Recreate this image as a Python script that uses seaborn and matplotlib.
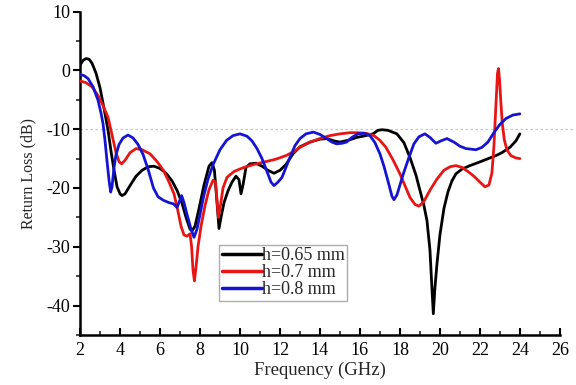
import numpy as np
import pandas as pd
import matplotlib
matplotlib.use("Agg")
import matplotlib.pyplot as plt
import seaborn as sns
from matplotlib.ticker import MultipleLocator

labels = ["h=0.65 mm", "h=0.7 mm", "h=0.8 mm"]
colors = ["#000000", "#e81515", "#1414d2"]

f_065 = [2.0, 2.15, 2.3, 2.45, 2.6, 2.8, 3.0, 3.2, 3.4, 3.55, 3.7, 3.85, 4.0, 4.1, 4.25, 4.5,
         4.8, 5.1, 5.4, 5.7, 6.0, 6.3, 6.6, 6.85, 7.1, 7.3, 7.5, 7.6, 7.75, 7.95, 8.2, 8.45,
         8.6, 8.72, 8.85, 8.95, 9.05, 9.2, 9.4, 9.6, 9.8, 9.95, 10.05, 10.15, 10.3, 10.5,
         10.8, 11.1, 11.4, 11.7, 12.0, 12.3, 12.65, 13.0, 13.5, 14.0, 14.35, 14.7, 15.0,
         15.4, 15.85, 16.3, 16.65, 16.9, 17.1, 17.4, 17.85, 18.2, 18.5, 18.8, 19.0, 19.2,
         19.35, 19.5, 19.6, 19.67, 19.75, 19.85, 20.0, 20.2, 20.4, 20.6, 20.8, 21.1, 21.5,
         21.9, 22.2, 22.5, 22.8, 23.1, 23.5, 23.8, 24.0]
v_065 = [0.9, 1.7, 2.0, 1.9, 1.2, -0.5, -3.0, -6.5, -10.2, -13.8, -17.0, -19.8, -21.0, -21.3,
         -21.0, -19.6, -18.0, -17.0, -16.4, -16.3, -16.7, -17.5, -18.8, -20.4, -22.6, -25.0,
         -27.0, -27.3, -26.5, -23.5, -19.5, -16.3, -15.7, -17.0, -22.5, -26.9, -25.0, -22.5,
         -20.5, -19.0, -18.0, -18.6, -21.0, -19.5, -16.5, -15.9, -15.8, -16.3, -17.0, -17.5,
         -17.0, -16.0, -14.2, -13.0, -12.2, -11.7, -11.6, -12.0, -12.2, -11.9, -11.4, -11.1,
         -10.8, -10.2, -10.1, -10.2, -10.8, -12.3, -14.8, -17.8, -20.4, -23.0, -25.5, -30.5,
         -37.0, -41.4, -37.0, -33.0, -28.0, -23.5, -20.7, -18.8, -17.6, -16.8, -16.2, -15.7,
         -15.3, -14.9, -14.5, -14.0, -13.1, -12.0, -10.8]

f_07 = [2.0, 2.3, 2.6, 2.9, 3.15, 3.4, 3.6, 3.8, 3.95, 4.08, 4.25, 4.5, 4.8, 5.1, 5.5, 5.85,
        6.17, 6.45, 6.7, 6.9, 7.05, 7.2, 7.35, 7.5, 7.58, 7.65, 7.72, 7.8, 7.9, 8.05, 8.25,
        8.45, 8.65, 8.78, 8.86, 8.92, 9.0, 9.15, 9.35, 9.7, 10.2, 10.7, 11.2, 11.8, 12.3,
        12.7, 13.0, 13.5, 14.0, 14.5, 15.0, 15.5, 15.85, 16.3, 16.7, 17.0, 17.3, 17.65, 18.0,
        18.3, 18.5, 18.75, 18.95, 19.2, 19.5, 19.85, 20.2, 20.5, 20.8, 21.1, 21.4, 21.7,
        22.0, 22.25, 22.45, 22.6, 22.7, 22.8, 22.88, 22.93, 22.98, 23.05, 23.12, 23.22,
        23.35, 23.55, 23.8, 24.0]
v_07 = [-1.8, -2.1, -2.8, -4.3, -6.0, -8.0, -11.0, -14.0, -15.5, -15.9, -15.3, -14.0, -13.3,
        -13.5, -14.2, -15.5, -17.0, -19.0, -21.0, -24.0, -26.5, -28.0, -28.2, -27.8, -30.0,
        -34.0, -35.8, -33.5, -30.0, -26.5, -23.0, -20.3, -18.7, -19.0, -22.5, -25.0, -23.5,
        -20.0, -18.2, -17.2, -16.5, -16.0, -15.6, -15.1, -14.5, -13.8, -13.1, -12.2, -11.6,
        -11.1, -10.8, -10.6, -10.6, -10.7, -11.1, -11.9, -13.1, -15.2, -17.6, -20.0, -21.6,
        -22.8, -23.1, -22.3, -20.4, -18.5, -17.0, -16.4, -16.2, -16.5, -17.2, -18.0, -19.0,
        -19.8, -19.5, -17.5, -13.0, -6.0, -0.5, 0.3, -1.5, -5.5, -9.0, -11.8, -13.5, -14.5,
        -14.9, -15.0]

f_08 = [2.0, 2.2, 2.4, 2.65, 2.9, 3.05, 3.15, 3.25, 3.35, 3.45, 3.53, 3.6, 3.7, 3.8, 3.95,
        4.15, 4.4, 4.65, 4.9, 5.15, 5.4, 5.67, 5.9, 6.17, 6.45, 6.67, 6.85, 6.98, 7.08, 7.2,
        7.35, 7.55, 7.7, 7.85, 8.0, 8.17, 8.4, 8.67, 9.0, 9.33, 9.65, 10.0, 10.35, 10.6,
        10.85, 11.1, 11.35, 11.55, 11.7, 11.9, 12.1, 12.3, 12.5, 12.75, 13.0, 13.3, 13.67,
        14.0, 14.33, 14.6, 14.83, 15.1, 15.33, 15.6, 15.9, 16.2, 16.5, 16.75, 17.0, 17.2,
        17.4, 17.6, 17.7, 17.85, 18.0, 18.17, 18.45, 18.7, 18.95, 19.25, 19.5, 19.8, 20.05,
        20.35, 20.7, 21.0, 21.3, 21.8, 22.1, 22.4, 22.7, 23.0, 23.3, 23.65, 24.0]
v_08 = [-0.7, -0.9, -1.4, -2.8, -5.1, -7.3, -9.1, -12.0, -15.5, -18.7, -20.7, -19.8, -16.5,
        -14.3, -12.6, -11.5, -11.0, -11.5, -12.6, -14.3, -16.8, -20.0, -21.5, -22.1, -22.5,
        -22.7, -23.3, -22.2, -21.3, -22.5, -24.5, -27.0, -28.4, -27.0, -24.5, -21.6, -18.5,
        -15.9, -13.5, -11.9, -11.1, -10.8, -11.2, -12.0, -13.3, -15.0, -17.2, -19.0, -19.6,
        -19.0, -18.2, -16.5, -14.8, -12.8, -11.6, -10.8, -10.5, -10.9, -11.6, -12.2, -12.5,
        -12.4, -12.2, -11.4, -10.8, -10.7, -11.1, -12.3, -14.2, -16.3, -18.8, -21.4, -22.0,
        -21.2, -19.5, -17.6, -14.8, -12.5, -11.3, -10.8, -11.4, -12.4, -12.0, -11.6, -12.2,
        -12.9, -13.3, -13.5, -13.1, -12.2, -10.6, -9.2, -8.2, -7.6, -7.4]

xticks = list(range(2, 27, 2))
yticks = [-40, -30, -20, -10, 0, 10]

df = pd.concat([
    pd.DataFrame({"Frequency": f_065, "RL": v_065, "h": labels[0]}),
    pd.DataFrame({"Frequency": f_07, "RL": v_07, "h": labels[1]}),
    pd.DataFrame({"Frequency": f_08, "RL": v_08, "h": labels[2]}),
], ignore_index=True)

sns.set_style("ticks")
plt.rcParams["font.family"] = ["Liberation Serif", "DejaVu Serif"]
plt.rcParams["axes.unicode_minus"] = False

fig = plt.figure(figsize=(5.76, 3.85), dpi=100)
ax = fig.add_axes([0.139, 0.130, 0.833, 0.840])

ax.axhline(-10, xmin=0, xmax=1.03, color="#c8c8c8", lw=0.9, ls=(0, (2, 2)),
           clip_on=False, zorder=1)

sns.lineplot(data=df, x="Frequency", y="RL", hue="h", palette=dict(zip(labels, colors)),
             sort=False, estimator=None, lw=2.0, ax=ax, zorder=3)
for ln in ax.get_lines():
    ln.set_solid_joinstyle("round")

ax.set_xlim(2, 26)
ax.set_ylim(-45, 10)
ax.set_xticks(xticks)
ax.set_yticks(yticks)
ax.xaxis.set_minor_locator(MultipleLocator(1))
ax.yaxis.set_minor_locator(MultipleLocator(5))
ax.tick_params(axis="x", which="major", direction="in", length=5, width=1.5,
               labelsize=13, pad=5, colors="black")
ax.tick_params(axis="x", which="minor", direction="in", length=3, width=1.2)
ax.tick_params(axis="y", which="major", direction="out", length=5, width=1.5,
               labelsize=13, pad=2, colors="black")
ax.tick_params(axis="y", which="minor", direction="out", length=3, width=1.2)

for s in ["top", "right"]:
    ax.spines[s].set_visible(False)
for s in ["left", "bottom"]:
    ax.spines[s].set_linewidth(1.8)
    ax.spines[s].set_color("black")

ax.set_xlabel("Frequency (GHz)", fontsize=13.5, labelpad=2)
ax.set_ylabel("Return Loss (dB)", fontsize=11.5, labelpad=7)

leg = ax.legend(loc="lower left", bbox_to_anchor=(0.29, 0.105), fontsize=13,
                handlelength=2.2, handletextpad=0.0, labelspacing=0.0,
                borderpad=0.15, borderaxespad=0, frameon=True, fancybox=False,
                title=None)
leg.get_frame().set_edgecolor("#999999")
leg.get_frame().set_linewidth(1.0)
for line in leg.get_lines():
    line.set_linewidth(2.5)

fig.savefig("out.png", dpi=100)
